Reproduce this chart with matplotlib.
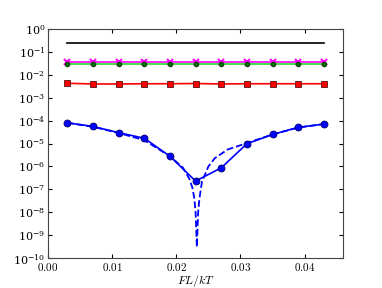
import matplotlib
matplotlib.use("Agg")
import matplotlib.pyplot as plt
import numpy as np

plt.rcParams['mathtext.fontset'] = 'cm'
plt.rcParams['font.family'] = 'serif'
plt.rcParams['font.serif'] = ['DejaVu Serif']

# valores de FL/kT
x = [0.003, 0.007, 0.011, 0.015, 0.019, 0.023, 0.027, 0.031, 0.035, 0.039, 0.043]

negro = [0.24] * 11
magenta = [0.036] * 11
verde = [0.030] * 11
rojo = [0.0043, 0.0040, 0.0040, 0.0041, 0.0041, 0.0042, 0.0040, 0.0041, 0.0041, 0.0041, 0.0041]
azul = [8.1e-5, 5.6e-5, 3.0e-5, 1.7e-5, 2.8e-6, 2.3e-7, 8.7e-7, 9.8e-6, 2.5e-5, 5.1e-5, 7.1e-5]

# curva punteada (teoria)
x_teo = [0.003, 0.007, 0.011, 0.015, 0.019, 0.021, 0.022, 0.0225, 0.0228, 0.0230,
         0.0232, 0.0234, 0.0236, 0.024, 0.025, 0.026, 0.028, 0.031, 0.035, 0.039, 0.043]
azul_teo = [8.0e-5, 5.4e-5, 2.9e-5, 1.4e-5, 2.8e-6, 9e-7, 3e-7, 1.2e-7, 4e-8, 1e-8,
            3e-10, 1e-8, 4e-8, 2.2e-7, 1e-6, 2.3e-6, 5.5e-6, 1.05e-5, 2.5e-5, 5e-5, 7.1e-5]

fig = plt.figure(figsize=(3.82, 2.88), dpi=100)
ax = fig.add_axes([0.126, 0.104, 0.772, 0.795])

ax.plot(x, negro, color='k', lw=1.2)
ax.plot(x, magenta, color='magenta', lw=1.2, marker='x', ms=5, mew=1.5)
ax.plot(x, verde, color='#22dd22', lw=1.2, marker='o', ms=3, mfc='green', mec='#114411')
ax.plot(x, rojo, color='red', lw=1.2, marker='s', ms=5, mec='#551111', mew=0.6)
ax.plot(x_teo, azul_teo, color='blue', lw=1.3, ls='--')
ax.plot(x, azul, color='blue', lw=1.2, marker='o', ms=5, mec='#000066', mew=0.6)

ax.set_yscale('log')
ax.set_ylim(1e-10, 1)
ax.set_xlim(0, 0.046)
ax.set_xticks([0.0, 0.01, 0.02, 0.03, 0.04])
ax.set_xticklabels(['$0.00$', '$0.01$', '$0.02$', '$0.03$', '$0.04$'])
ax.set_yticks([10.0**k for k in range(-10, 1)])
ax.tick_params(labelsize=8, direction='in', top=True, right=True, length=3, pad=2)
ax.tick_params(which='minor', direction='in', top=True, right=True, length=1.5)
ax.set_xlabel('$FL/kT$', fontsize=8.5, labelpad=0)
for s in ax.spines.values():
    s.set_color('#444444')

fig.savefig('out.png', dpi=100)
